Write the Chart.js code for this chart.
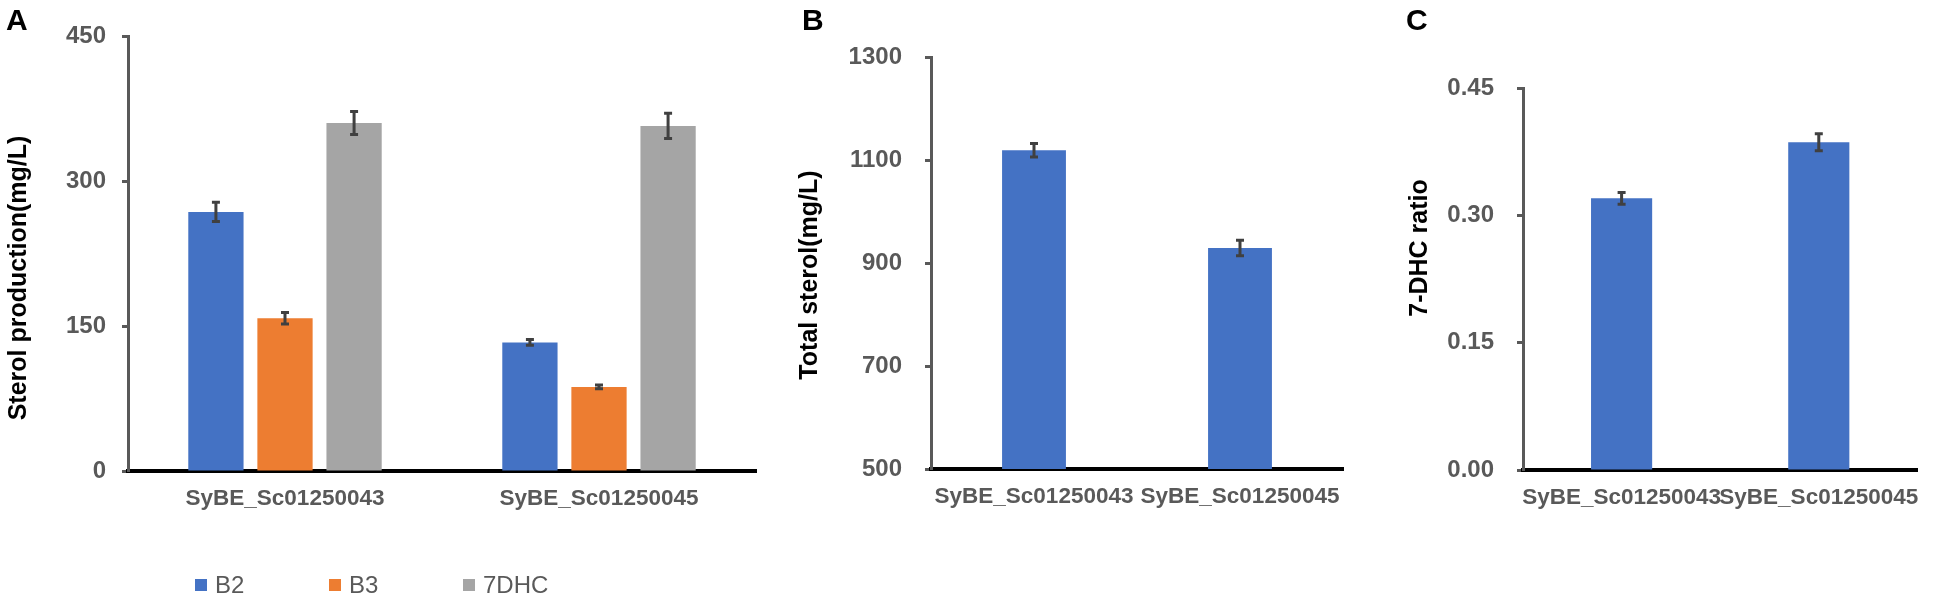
<!DOCTYPE html>
<html lang="en">
<head>
<meta charset="UTF-8">
<title>Sterol production</title>
<script src="https://cdn.jsdelivr.net/npm/chart.js@4.4.1/dist/chart.umd.min.js"></script>
<style>
  body { margin: 0; background: #fff; width: 1934px; height: 599px; overflow: hidden; position: relative; }
  canvas { position: absolute; top: 0; }
</style>
</head>
<body>
<canvas id="chartA" width="780" height="599" style="left:0px"></canvas>
<canvas id="chartB" width="590" height="599" style="left:780px"></canvas>
<canvas id="chartC" width="564" height="599" style="left:1370px"></canvas>
<script>
// data
const strains = ['SyBE_Sc01250043', 'SyBE_Sc01250045'];

const b2 = [268, 133];
const b2Err = [10, 3];
const b3 = [158, 87];
const b3Err = [6, 2];
const dhc7 = [360, 357];
const dhc7Err = [12, 13];

const totalSterol = [1119, 929];
const totalSterolErr = [13, 15];

const dhcRatio = [0.320, 0.386];
const dhcRatioErr = [0.007, 0.010];

const ticksA = [0, 150, 300, 450];
const ticksB = [500, 700, 900, 1100, 1300];
const ticksC = [0, 0.15, 0.30, 0.45];

const BLUE = '#4472C4', ORANGE = '#ED7D31', GREY = '#A5A5A5';
const AXIS = '#595959';
const FONT = '"Liberation Sans", Arial, sans-serif';

// error bars drawn from the bar elements + y scale
const errorBars = {
  id: 'errorBars',
  afterDatasetsDraw(chart) {
    const ctx = chart.ctx;
    const y = chart.scales.y;
    chart.data.datasets.forEach((ds, i) => {
      chart.getDatasetMeta(i).data.forEach((bar, j) => {
        const top = y.getPixelForValue(ds.data[j] + ds.errors[j]);
        const bot = y.getPixelForValue(ds.data[j] - ds.errors[j]);
        ctx.save();
        ctx.strokeStyle = '#404040';
        ctx.lineWidth = 3;
        ctx.beginPath();
        ctx.moveTo(bar.x, top); ctx.lineTo(bar.x, bot);
        ctx.moveTo(bar.x - 4, top); ctx.lineTo(bar.x + 4, top);
        ctx.moveTo(bar.x - 4, bot); ctx.lineTo(bar.x + 4, bot);
        ctx.stroke();
        ctx.restore();
      });
    });
  }
};

// panel letter, rotated axis title, optional legend row
const decor = {
  id: 'decor',
  afterDraw(chart, args, o) {
    const ctx = chart.ctx;
    ctx.save();
    ctx.fillStyle = '#000';
    ctx.font = 'bold 30px ' + FONT;
    ctx.textBaseline = 'alphabetic';
    ctx.fillText(o.letter, o.letterX, 30);

    ctx.translate(o.titleX, o.titleY);
    ctx.rotate(-Math.PI / 2);
    ctx.font = 'bold 25px ' + FONT;
    ctx.textAlign = 'center';
    ctx.textBaseline = 'middle';
    ctx.fillText(o.title, 0, 0);
    ctx.restore();

    if (o.legendX !== undefined) {
      ctx.save();
      ctx.font = '24px ' + FONT;
      ctx.textBaseline = 'middle';
      chart.data.datasets.forEach((ds, i) => {
        const x = o.legendX + i * o.legendStep;
        ctx.fillStyle = ds.backgroundColor;
        ctx.fillRect(x, o.legendY - 6, 12, 12);
        ctx.fillStyle = AXIS;
        ctx.fillText(ds.label, x + 20, o.legendY + 1);
      });
      ctx.restore();
    }
  }
};

function makeChart(id, datasets, yTicks, yFmt, axisW, tickPad, pad, barOpts, dec) {
  return new Chart(document.getElementById(id), {
    type: 'bar',
    data: { labels: strains, datasets: datasets },
    plugins: [errorBars, decor],
    options: {
      responsive: false,
      animation: false,
      devicePixelRatio: 1,
      layout: { padding: pad },
      datasets: { bar: barOpts },
      plugins: { legend: { display: false }, tooltip: { enabled: false }, decor: dec },
      scales: {
        x: {
          afterFit: s => { s.height = 599 - dec.bottom; },
          grid: { display: true, drawOnChartArea: false, drawTicks: false },
          border: { display: true, color: '#000', width: 4 },
          ticks: { color: AXIS, padding: 14, maxRotation: 0, autoSkip: false,
                   font: { family: FONT, size: 22.5, weight: 'bold' } }
        },
        y: {
          min: yTicks[0],
          max: yTicks[yTicks.length - 1],
          afterFit: s => { s.width = axisW; },
          afterBuildTicks: s => { s.ticks = yTicks.map(v => ({ value: v })); },
          grid: { display: true, drawOnChartArea: false, drawTicks: true,
                  tickLength: 6, tickWidth: 3, tickColor: AXIS },
          border: { display: true, color: AXIS, width: 3 },
          ticks: { color: AXIS, padding: tickPad, callback: yFmt,
                   font: { family: FONT, size: 24, weight: 'bold' } }
        }
      }
    }
  });
}

makeChart('chartA', [
    { label: 'B2', data: b2, errors: b2Err, backgroundColor: BLUE },
    { label: 'B3', data: b3, errors: b3Err, backgroundColor: ORANGE },
    { label: '7DHC', data: dhc7, errors: dhc7Err, backgroundColor: GREY }
  ], ticksA, v => v, 128, 16,
  { left: 0, right: 24, top: 36, bottom: 0 },
  { categoryPercentage: 0.66, barPercentage: 0.8 },
  { letter: 'A', letterX: 6, title: 'Sterol production(mg/L)', titleX: 19, titleY: 278,
    bottom: 471, legendX: 195, legendY: 585, legendStep: 134 });

makeChart('chartB', [
    { label: 'Total sterol', data: totalSterol, errors: totalSterolErr, backgroundColor: BLUE }
  ], ticksB, v => v, 151, 23,
  { left: 0, right: 27, top: 57, bottom: 0 },
  { categoryPercentage: 0.31, barPercentage: 1 },
  { letter: 'B', letterX: 22, title: 'Total sterol(mg/L)', titleX: 30, titleY: 275, bottom: 469 });

makeChart('chartC', [
    { label: '7-DHC ratio', data: dhcRatio, errors: dhcRatioErr, backgroundColor: BLUE }
  ], ticksC, v => v.toFixed(2), 153, 23,
  { left: 0, right: 7, top: 88, bottom: 0 },
  { categoryPercentage: 0.31, barPercentage: 1 },
  { letter: 'C', letterX: 36, title: '7-DHC ratio', titleX: 50, titleY: 248, bottom: 470 });
</script>
</body>
</html>
